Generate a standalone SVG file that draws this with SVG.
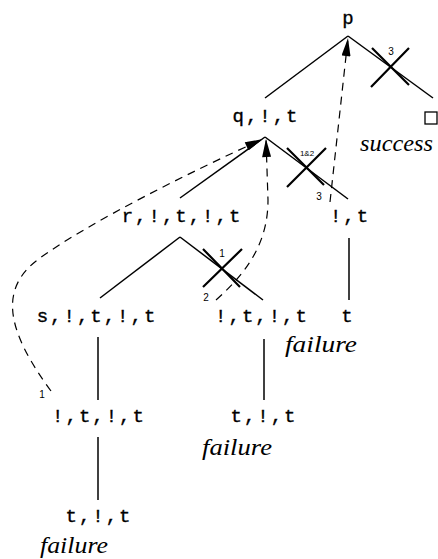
<svg xmlns="http://www.w3.org/2000/svg" width="438" height="559" viewBox="0 0 438 559">
<style>
.n{font-family:"Liberation Mono","DejaVu Sans Mono",monospace;font-size:19px;letter-spacing:2px;text-anchor:middle;fill:#000;stroke:#000;stroke-width:0.35}
.i{font-family:"Liberation Serif","DejaVu Serif",serif;font-style:italic;font-size:23px;fill:#000}
.l{font-family:"Liberation Sans","DejaVu Sans",sans-serif;font-size:10px;text-anchor:middle;fill:#000}
.e{stroke:#000;stroke-width:1.5;fill:none}
.x{stroke:#000;stroke-width:2.2;fill:none}
.d{stroke:#000;stroke-width:1.2;fill:none;stroke-dasharray:8 6}
</style>
<defs>
<marker id="ah" viewBox="0 0 20 10" refX="20" refY="5" markerWidth="20" markerHeight="9" markerUnits="userSpaceOnUse" orient="auto">
<path d="M0,0 L20,5 L0,10 Z" fill="#000"/>
</marker>
</defs>
<g id="edges">
<path class="e" d="M348,36 L265,98"/>
<path class="e" d="M348,36 L433,98"/>
<path class="e" d="M265,137 L180,198"/>
<path class="e" d="M265,137 L348,199"/>
<path class="e" d="M180,237 L100,298"/>
<path class="e" d="M180,237 L263,300"/>
<path class="e" d="M349,238 L349,300"/>
<path class="e" d="M98,337 L98,400"/>
<path class="e" d="M264,339 L264,400"/>
<path class="e" d="M98,437 L98,500"/>
</g>
<g id="cuts">
<path class="x" d="M372,48 L409,85 M371,87 L409,48"/>
<path class="x" d="M287,148 L324,185 M287,187 L326,148"/>
<path class="x" d="M203,249 L240,287 M203,287 L242,249"/>
<text class="l" x="391" y="55">3</text>
<text class="l" x="307" y="156" style="font-size:8px">1&amp;2</text>
<text class="l" x="319" y="200">3</text>
<text class="l" x="222" y="257">1</text>
<text class="l" x="206" y="301">2</text>
<text class="l" x="42" y="398">1</text>
</g>
<g id="connectors">
<path class="d" d="M330,202 L348,38" marker-end="url(#ah)"/>
<path class="d" d="M216,300 C250,270 268,240 268,200 L266,139" marker-end="url(#ah)"/>
<path class="d" d="M51,391 C10,335 -5,290 40,258 C90,222 190,172 263,139" marker-end="url(#ah)"/>
</g>
<g id="n-p"><text class="n" x="349" y="24">p</text></g>
<g id="n-q"><text class="n" x="266" y="122">q,!,t</text></g>
<g id="n-r"><text class="n" x="182" y="222">r,!,t,!,t</text></g>
<g id="n-qr"><text class="n" x="350" y="222">!,t</text></g>
<g id="n-s"><text class="n" x="97" y="322">s,!,t,!,t</text></g>
<g id="n-rr"><text class="n" x="262" y="322">!,t,!,t</text></g>
<g id="n-t1"><text class="n" x="348" y="322">t</text><text class="i" x="285" y="352" textLength="72" lengthAdjust="spacingAndGlyphs">failure</text></g>
<g id="n-sc"><text class="n" x="99" y="422">!,t,!,t</text></g>
<g id="n-rt"><text class="n" x="264" y="422">t,!,t</text><text class="i" x="202" y="455" textLength="70" lengthAdjust="spacingAndGlyphs">failure</text></g>
<g id="n-last"><text class="n" x="99" y="522">t,!,t</text><text class="i" x="40" y="553" textLength="68" lengthAdjust="spacingAndGlyphs">failure</text></g>
<g id="n-succ"><rect x="425" y="112" width="12" height="12" fill="none" stroke="#000" stroke-width="1.3"/><text class="i" x="360" y="151" textLength="73" lengthAdjust="spacingAndGlyphs">success</text></g>
</svg>
